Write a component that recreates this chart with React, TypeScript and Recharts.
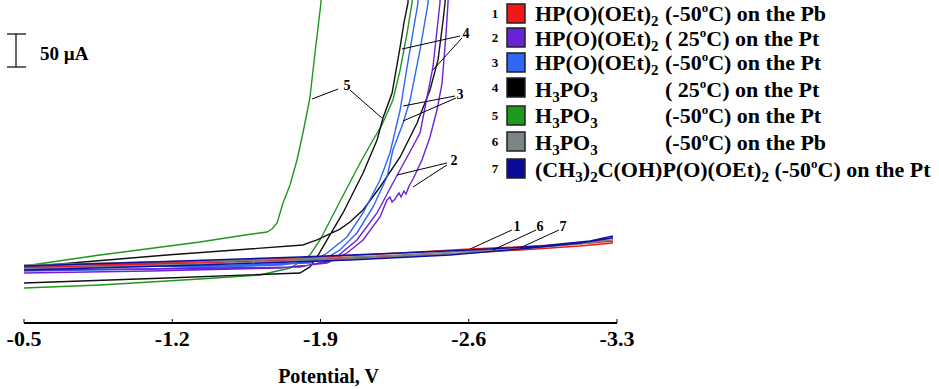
import React from "react";
import { LineChart, Line, XAxis, YAxis, ReferenceLine, ReferenceDot } from "recharts";

const SERIF = '"Liberation Serif", "Times New Roman", serif';

// potential in V, current in µA (arbitrary zero, 50 µA scale bar)
// each trace is a full sweep: forward branch up past the top, then back
const curve1 = [
  { e: -0.5, i: 83.8 }, { e: -1.095, i: 88.2 }, { e: -1.803, i: 95.6 }, { e: -2.276, i: 102.9 },
  { e: -2.606, i: 108.8 }, { e: -2.937, i: 113.2 }, { e: -3.173, i: 117.6 }, { e: -3.277, i: 120.6 },
  { e: -3.277, i: 117.6 }, { e: -3.125, i: 113.2 }, { e: -2.842, i: 107.4 }, { e: -2.512, i: 101.5 },
  { e: -2.039, i: 95.6 }, { e: -1.331, i: 88.2 }, { e: -0.5, i: 80.9 },
];
const curve2 = [
  { e: -0.5, i: 73.5 }, { e: -1.095, i: 76.5 }, { e: -1.709, i: 80.9 }, { e: -1.931, i: 88.2 },
  { e: -2.025, i: 102.9 }, { e: -2.101, i: 122.1 }, { e: -2.181, i: 155.9 }, { e: -2.214, i: 180.9 },
  { e: -2.228, i: 185.3 }, { e: -2.238, i: 177.9 }, { e: -2.252, i: 182.4 }, { e: -2.261, i: 186.8 },
  { e: -2.271, i: 191.2 }, { e: -2.28, i: 185.3 }, { e: -2.294, i: 194.1 }, { e: -2.304, i: 189.7 },
  { e: -2.318, i: 201.5 }, { e: -2.337, i: 211.8 }, { e: -2.379, i: 239.7 }, { e: -2.417, i: 273.5 },
  { e: -2.45, i: 313.2 }, { e: -2.474, i: 352.9 }, { e: -2.493, i: 426.5 }, { e: -2.502, i: 470.6 },
  { e: -2.507, i: 520 },
  { e: -2.469, i: 520 }, { e: -2.464, i: 470.6 }, { e: -2.431, i: 376.5 }, { e: -2.37, i: 279.4 },
  { e: -2.309, i: 244.1 }, { e: -2.242, i: 205.9 }, { e: -2.167, i: 161.8 }, { e: -2.072, i: 122.1 },
  { e: -1.959, i: 92.6 }, { e: -1.803, i: 82.4 }, { e: -1.095, i: 79.4 }, { e: -0.5, i: 77.9 },
];
const curve3 = [
  { e: -0.5, i: 76.5 }, { e: -1.095, i: 79.4 }, { e: -1.709, i: 85.3 }, { e: -1.912, i: 92.6 },
  { e: -1.992, i: 107.4 }, { e: -2.072, i: 132.4 }, { e: -2.148, i: 170.6 }, { e: -2.214, i: 214.7 },
  { e: -2.242, i: 254.4 }, { e: -2.29, i: 294.1 }, { e: -2.323, i: 327.9 }, { e: -2.37, i: 401.5 },
  { e: -2.408, i: 470.6 }, { e: -2.412, i: 520 },
  { e: -2.365, i: 520 }, { e: -2.36, i: 470.6 }, { e: -2.309, i: 376.5 }, { e: -2.276, i: 313.2 },
  { e: -2.228, i: 250 }, { e: -2.181, i: 210.3 }, { e: -2.101, i: 161.8 }, { e: -2.025, i: 126.5 },
  { e: -1.931, i: 102.9 }, { e: -1.85, i: 88.2 }, { e: -1.331, i: 83.8 }, { e: -0.5, i: 82.4 },
];
const curve4 = [
  { e: -0.5, i: 58.8 }, { e: -1.175, i: 66.2 }, { e: -1.803, i: 73.5 }, { e: -1.85, i: 82.4 },
  { e: -1.884, i: 97.1 }, { e: -1.931, i: 122.1 }, { e: -2.006, i: 161.8 }, { e: -2.101, i: 220.6 },
  { e: -2.167, i: 269.1 }, { e: -2.195, i: 301.5 }, { e: -2.238, i: 338.2 }, { e: -2.276, i: 405.9 },
  { e: -2.294, i: 441.2 }, { e: -2.313, i: 470.6 }, { e: -2.318, i: 520 },
  { e: -2.493, i: 520 }, { e: -2.488, i: 470.6 }, { e: -2.479, i: 445.6 }, { e: -2.455, i: 386.8 },
  { e: -2.417, i: 342.6 }, { e: -2.356, i: 294.1 }, { e: -2.276, i: 244.1 }, { e: -2.181, i: 200 },
  { e: -2.101, i: 166.2 }, { e: -2.039, i: 148.5 }, { e: -1.992, i: 138.2 }, { e: -1.921, i: 127.9 },
  { e: -1.884, i: 122.1 }, { e: -1.85, i: 118.5 }, { e: -1.817, i: 114.7 }, { e: -1.175, i: 100 },
  { e: -0.5, i: 82.4 },
];
const curve5 = [
  { e: -0.5, i: 51.5 }, { e: -0.859, i: 55.9 }, { e: -1.331, i: 64.7 }, { e: -1.614, i: 70.6 },
  { e: -1.756, i: 80.9 }, { e: -1.803, i: 89.7 }, { e: -1.85, i: 100 }, { e: -1.898, i: 122.1 },
  { e: -1.959, i: 158.8 }, { e: -2.025, i: 198.5 }, { e: -2.087, i: 235.3 }, { e: -2.148, i: 269.1 },
  { e: -2.19, i: 291.2 }, { e: -2.242, i: 327.9 }, { e: -2.276, i: 372.1 }, { e: -2.309, i: 426.5 },
  { e: -2.332, i: 470.6 }, { e: -2.342, i: 520 },
  { e: -1.907, i: 520 }, { e: -1.902, i: 470.6 }, { e: -1.874, i: 397 }, { e: -1.85, i: 330.9 },
  { e: -1.817, i: 279.4 }, { e: -1.789, i: 239.7 }, { e: -1.756, i: 202.9 }, { e: -1.723, i: 176.5 },
  { e: -1.695, i: 147.1 }, { e: -1.671, i: 138.2 }, { e: -1.647, i: 133.8 }, { e: -1.544, i: 129.4 },
  { e: -1.331, i: 119.1 }, { e: -0.859, i: 100 }, { e: -0.5, i: 83.8 },
];
const curve6 = [
  { e: -0.5, i: 85.3 }, { e: -1.095, i: 89.7 }, { e: -1.803, i: 94.1 }, { e: -2.276, i: 100 },
  { e: -2.606, i: 105.9 }, { e: -2.937, i: 111.8 }, { e: -3.173, i: 119.1 }, { e: -3.277, i: 125 },
  { e: -3.277, i: 122.1 }, { e: -3.125, i: 116.2 }, { e: -2.842, i: 108.8 }, { e: -2.512, i: 101.5 },
  { e: -2.039, i: 94.1 }, { e: -1.331, i: 86.8 }, { e: -0.5, i: 79.4 },
];
const curve7 = [
  { e: -0.5, i: 83.8 }, { e: -1.095, i: 89.7 }, { e: -1.803, i: 97.1 }, { e: -2.276, i: 102.9 },
  { e: -2.606, i: 107.4 }, { e: -2.937, i: 113.2 }, { e: -3.173, i: 120.6 }, { e: -3.277, i: 127.9 },
  { e: -3.277, i: 125 }, { e: -3.125, i: 117.6 }, { e: -2.842, i: 108.8 }, { e: -2.512, i: 100 },
  { e: -2.039, i: 92.6 }, { e: -1.331, i: 85.3 }, { e: -0.5, i: 77.9 },
];

const xTicks = [-0.5, -1.2, -1.9, -2.6, -3.3];

const compounds = [
  "HP(O)(OEt)2", "HP(O)(OEt)2", "HP(O)(OEt)2", "H3PO3", "H3PO3", "H3PO3",
  "(CH3)2C(OH)P(O)(OEt)2",
];
const temps = ["-50", " 25", "-50", " 25", "-50", "-50", "-50"];
const electrodes = ["Pb", "Pt", "Pt", "Pt", "Pt", "Pb", "Pt"];

// number labels on the traces and their leader lines
const tagLabels = [
  { n: "5", e: -2.025, i: 350 },
  { n: "4", e: -2.587, i: 426.5 },
  { n: "3", e: -2.559, i: 336.8 },
  { n: "2", e: -2.53, i: 239.7 },
  { n: "1", e: -2.828, i: 142.6 },
  { n: "6", e: -2.937, i: 142.6 },
  { n: "7", e: -3.045, i: 142.6 },
];
const tagLeaders = [
  [{ e: -1.983, i: 344.1 }, { e: -1.86, i: 329.4 }],
  [{ e: -2.039, i: 342.6 }, { e: -2.19, i: 301.5 }],
  [{ e: -2.559, i: 422.1 }, { e: -2.285, i: 402.9 }],
  [{ e: -2.568, i: 419.1 }, { e: -2.431, i: 372.1 }],
  [{ e: -2.535, i: 333.8 }, { e: -2.29, i: 319.1 }],
  [{ e: -2.54, i: 330.9 }, { e: -2.29, i: 297.1 }],
  [{ e: -2.497, i: 235.3 }, { e: -2.261, i: 217.6 }],
  [{ e: -2.497, i: 232.4 }, { e: -2.337, i: 200 }],
  [{ e: -2.804, i: 136.8 }, { e: -2.606, i: 108.8 }],
  [{ e: -2.918, i: 136.8 }, { e: -2.715, i: 107.4 }],
  [{ e: -3.026, i: 136.8 }, { e: -2.842, i: 110.3 }],
];

const series = [
  { id: "5", data: curve5, color: "#1f961f" },
  { id: "4", data: curve4, color: "#111111" },
  { id: "3", data: curve3, color: "#2f66f2" },
  { id: "2", data: curve2, color: "#6a22d6" },
  { id: "1", data: curve1, color: "#f01818" },
  { id: "6", data: curve6, color: "#7a8587" },
  { id: "7", data: curve7, color: "#10109e" },
];
const legendColors = ["#f01818", "#6a22d6", "#2f66f2", "#000000", "#1f9a1f", "#7a8587", "#0a0a9a"];
const rowBoxTop = [4, 28, 53, 78, 106, 132, 159];
const rowBase = [21, 46, 70, 97, 123, 150, 177];

function spans(compound: string, temp?: string, el?: string, lead = "") {
  const out: React.ReactNode[] = [];
  let off = 0;
  const push = (txt: string, target: number, size?: number) => {
    out.push(
      <tspan key={out.length} dy={target - off} fontSize={size}>
        {txt}
      </tspan>
    );
    off = target;
  };
  compound
    .split(/(\d+)/)
    .filter(Boolean)
    .forEach((p) => (/^\d+$/.test(p) ? push(p, 5, 15) : push(p, 0)));
  if (temp !== undefined) {
    push(`${lead}(${temp}`, 0);
    push("o", -9, 13);
    push(`C) on the ${el}`, 0);
  }
  return out;
}

function XTick(props: any) {
  const { x, y, payload } = props;
  return (
    <g>
      <line x1={x} x2={x} y1={y} y2={y - 4} stroke="#000" strokeWidth={1} />
      <text x={x} y={y + 23} textAnchor="middle" fontFamily={SERIF} fontWeight="bold" fontSize={22} fill="#000">
        {Number(payload.value).toFixed(1)}
      </text>
    </g>
  );
}

export default function App() {
  return (
    <div style={{ position: "absolute", left: 0, top: 0, width: 939, height: 389, background: "#fff" }}>
      <LineChart width={939} height={389} margin={{ top: 0, right: 322, bottom: 0, left: 24 }}>
        <XAxis
          type="number"
          dataKey="e"
          domain={[-3.3, -0.5]}
          reversed
          allowDataOverflow
          ticks={xTicks}
          interval={0}
          height={66}
          stroke="#000"
          strokeWidth={2}
          tickLine={false}
          tickSize={0}
          tickMargin={0}
          tick={<XTick />}
          label={{
            value: "Potential, V",
            position: "insideBottom",
            offset: 6,
            dx: 8,
            style: { fontFamily: SERIF, fontWeight: "bold", fontSize: 20, fill: "#000" },
          }}
        />
        <YAxis hide type="number" domain={[0, 475]} allowDataOverflow />
        {series.map((s) => (
          <Line
            key={s.id}
            data={s.data}
            dataKey="i"
            type="linear"
            stroke={s.color}
            strokeWidth={1.4}
            dot={false}
            activeDot={false}
            isAnimationActive={false}
          />
        ))}
        {tagLeaders.map((seg, k) => (
          <ReferenceLine
            key={`l${k}`}
            segment={[
              { x: seg[0].e, y: seg[0].i },
              { x: seg[1].e, y: seg[1].i },
            ]}
            stroke="#000"
            strokeWidth={1}
          />
        ))}
        {tagLabels.map((t) => (
          <ReferenceDot
            key={`t${t.n}`}
            x={t.e}
            y={t.i}
            r={0}
            fill="none"
            stroke="none"
            label={{
              value: t.n,
              position: "center",
              style: { fontFamily: SERIF, fontWeight: "bold", fontSize: 14, fill: "#000" },
            }}
          />
        ))}
      </LineChart>
      <svg width={939} height={389} style={{ position: "absolute", left: 0, top: 0, pointerEvents: "none" }}>
        {/* 50 µA scale bar */}
        <line x1={16} x2={16} y1={34} y2={67} stroke="#000" strokeWidth={1.2} />
        <line x1={7} x2={26} y1={34} y2={34} stroke="#000" strokeWidth={1.2} />
        <line x1={7} x2={26} y1={67} y2={67} stroke="#000" strokeWidth={1.2} />
        <text x={40} y={60} fontFamily={SERIF} fontWeight="bold" fontSize={19} fill="#000">
          50 µA
        </text>
        {compounds.map((c, k) => (
          <g key={k}>
            <text x={495} y={rowBoxTop[k] + 14} textAnchor="middle" fontFamily={SERIF} fontWeight="bold" fontSize={13} fill="#000">
              {k + 1}
            </text>
            <rect x={507} y={rowBoxTop[k]} width={18} height={19} fill={legendColors[k]} stroke="#222" strokeWidth={1.5} />
            {k < 6 ? (
              <>
                <text x={535} y={rowBase[k]} fontFamily={SERIF} fontWeight="bold" fontSize={22} fill="#000">
                  {spans(c)}
                </text>
                <text x={665} y={rowBase[k]} fontFamily={SERIF} fontWeight="bold" fontSize={22} fill="#000">
                  {spans("", temps[k], electrodes[k])}
                </text>
              </>
            ) : (
              <text x={535} y={rowBase[k]} fontFamily={SERIF} fontWeight="bold" fontSize={22} fill="#000">
                {spans(c, temps[k], electrodes[k], " ")}
              </text>
            )}
          </g>
        ))}
      </svg>
    </div>
  );
}
